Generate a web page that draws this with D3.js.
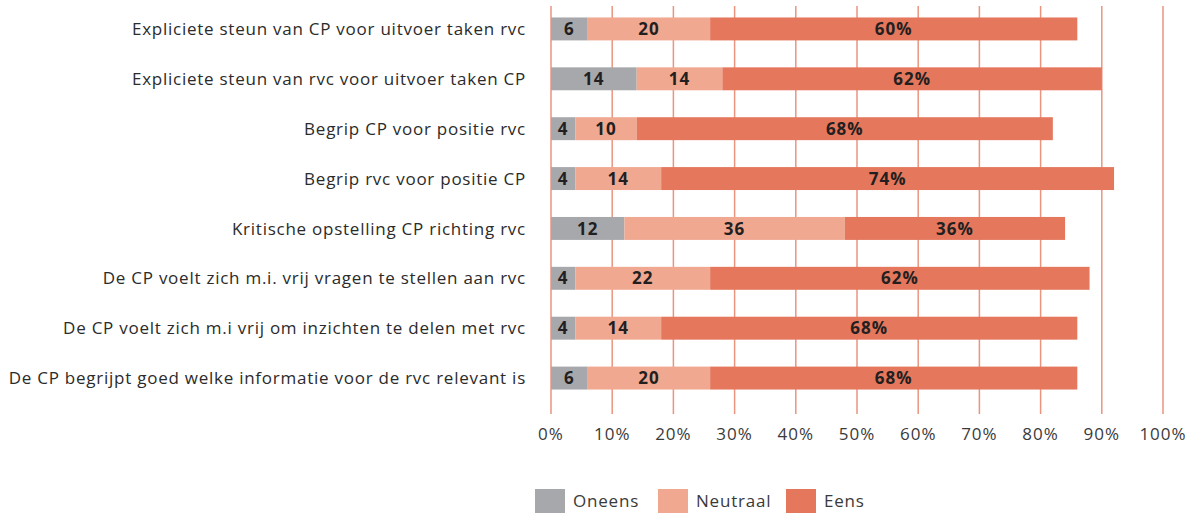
<!DOCTYPE html>
<meta charset="utf-8">
<title>stemming rvc CP</title>
<script src="https://cdn.jsdelivr.net/npm/d3@7"></script>
<style>
body { margin: 0; background: #fff; }
text { font-family: "Open Sans", "Noto Sans", sans-serif; }
.cat { fill: #2b2b2b; font-size: 17px; letter-spacing: 0.75px; }
.tick-label { fill: #3a3a3a; font-size: 17px; letter-spacing: 1px; }
.val { fill: #231f20; font-size: 17px; font-weight: 700; letter-spacing: 1px; }
.leg { fill: #3a3a3a; font-size: 17px; letter-spacing: 0.8px; }
</style>
<body>
<script>

var categories = [
  "Expliciete steun van CP voor uitvoer taken rvc",
  "Expliciete steun van rvc voor uitvoer taken CP",
  "Begrip CP voor positie rvc",
  "Begrip rvc voor positie CP",
  "Kritische opstelling CP richting rvc",
  "De CP voelt zich m.i. vrij vragen te stellen aan rvc",
  "De CP voelt zich m.i vrij om inzichten te delen met rvc",
  "De CP begrijpt goed welke informatie voor de rvc relevant is"
];
var oneens   = [6, 14, 4, 4, 12, 4, 4, 6];
var neutraal = [20, 14, 10, 14, 36, 22, 14, 20];
var eens     = [60, 62, 68, 74, 36, 62, 68, 60];
// printed labels of the "eens" part (last row is printed as 68% in the source)
var eensLabels = ["60%", "62%", "68%", "74%", "36%", "62%", "68%", "68%"];
var seriesNames = ["Oneens", "Neutraal", "Eens"];
var ticks = [0, 10, 20, 30, 40, 50, 60, 70, 80, 90, 100];

var colors = ["#a7a8ab", "#f0a890", "#e5775c"];

var width = 1196, height = 513;
var svg = d3.select("body").append("svg")
    .attr("width", width)
    .attr("height", height);

var x = d3.scaleLinear().domain([0, 100]).range([551, 1163]);
var y = d3.scaleBand().domain(categories).range([4, 403]).paddingInner(0.54).paddingOuter(0.27);

// grid lines
svg.append("g").selectAll("line")
    .data(ticks)
    .enter().append("line")
    .attr("x1", function(d) { return x(d); })
    .attr("x2", function(d) { return x(d); })
    .attr("y1", 6)
    .attr("y2", 414)
    .attr("stroke", "#ea9580")
    .attr("stroke-width", 1.5);

svg.append("g").selectAll("text")
    .data(ticks)
    .enter().append("text")
    .attr("class", "tick-label")
    .attr("x", function(d) { return x(d); })
    .attr("y", 440)
    .attr("text-anchor", "middle")
    .text(function(d) { return d + "%"; });

var rows = categories.map(function(c, i) {
  return { cat: c, Oneens: oneens[i], Neutraal: neutraal[i], Eens: eens[i], label: eensLabels[i] };
});

var stack = d3.stack().keys(seriesNames)(rows);

var layer = svg.append("g").selectAll("g")
    .data(stack)
    .enter().append("g")
    .attr("fill", function(d, i) { return colors[i]; });

layer.selectAll("rect")
    .data(function(d) { return d; })
    .enter().append("rect")
    .attr("x", function(d) { return x(d[0]); })
    .attr("width", function(d) { return x(d[1]) - x(d[0]); })
    .attr("y", function(d) { return y(d.data.cat); })
    .attr("height", y.bandwidth());

stack.forEach(function(s, k) {
  svg.append("g").selectAll("text")
      .data(s)
      .enter().append("text")
      .attr("class", "val")
      .attr("x", function(d) { return (x(d[0]) + x(d[1])) / 2; })
      .attr("y", function(d) { return y(d.data.cat) + y.bandwidth() / 2; })
      .attr("dy", "0.36em")
      .attr("text-anchor", "middle")
      .text(function(d) { return k == 2 ? d.data.label : d.data[s.key]; });
});

// category labels
svg.append("g").selectAll("text")
    .data(categories)
    .enter().append("text")
    .attr("class", "cat")
    .attr("x", 526)
    .attr("y", function(d) { return y(d) + y.bandwidth() / 2; })
    .attr("dy", "0.36em")
    .attr("text-anchor", "end")
    .text(function(d) { return d; });

// legend
var legX = [535, 658, 786];
var leg = svg.append("g").selectAll("g")
    .data(seriesNames)
    .enter().append("g")
    .attr("transform", function(d, i) { return "translate(" + legX[i] + ",489)"; });
leg.append("rect")
    .attr("width", 30)
    .attr("height", 24)
    .attr("fill", function(d, i) { return colors[i]; });
leg.append("text")
    .attr("class", "leg")
    .attr("x", 38)
    .attr("y", 12)
    .attr("dy", "0.36em")
    .text(function(d) { return d; });

</script>
</body>
</html>
